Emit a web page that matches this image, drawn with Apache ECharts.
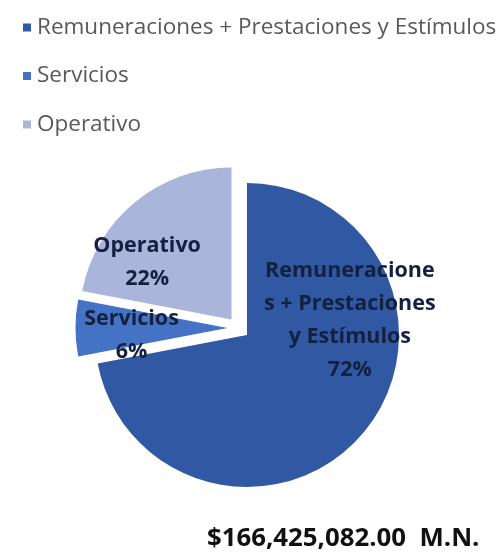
<!DOCTYPE html>
<html>
<head>
<meta charset="utf-8">
<script src="https://cdn.jsdelivr.net/npm/echarts@6/dist/echarts.min.js"></script>
<style>
  html, body { margin: 0; padding: 0; background: #ffffff; }
  #chart { width: 503px; height: 552px; }
</style>
</head>
<body>
<div id="chart"></div>
<script>
// Budget split by spending category (percent of total)
const categories = ['Remuneraciones + Prestaciones y Estímulos', 'Servicios', 'Operativo'];
const shares = [72, 6, 22];
// Wrapped names as they appear inside the slices
const sliceLabels = ['Remuneracione\ns + Prestaciones\ny Estímulos', 'Servicios', 'Operativo'];
const totalText = '$166,425,082.00  M.N.';

const sliceColors = ['#3158A3', '#4472C4', '#A9B5DA'];
// Nudges applied to each inside label (px)
const labelShift = [[42, -65], [-17, 7], [-34, 4]];

const FONT = '"Open Sans", sans-serif';

const chart = echarts.init(document.getElementById('chart'), null, { renderer: 'canvas' });

chart.setOption({
  animation: false,
  backgroundColor: '#ffffff',
  title: {
    text: totalText,
    left: 207,
    top: 525,
    padding: 0,
    textStyle: { fontFamily: FONT, fontSize: 25.8, fontWeight: 'bold', color: '#111111', lineHeight: 28 }
  },
  legend: {
    orient: 'vertical',
    left: 18,
    top: 11,
    itemWidth: 8,
    itemHeight: 8,
    itemGap: 25.5,
    icon: 'rect',
    selectedMode: false,
    data: categories,
    textStyle: { fontFamily: FONT, fontSize: 22.5, lineHeight: 22, color: '#595959', padding: [0, 0, 0, 1] }
  },
  series: [{
    type: 'pie',
    center: [238.5, 328],
    radius: [0, 152],
    startAngle: 90,
    clockwise: true,
    selectedMode: 'multiple',
    selectedOffset: 11,
    avoidLabelOverlap: false,
    emphasis: { disabled: true },
    itemStyle: { borderWidth: 0 },
    label: {
      show: true,
      position: 'inside',
      fontFamily: FONT,
      fontSize: 21.5,
      fontWeight: 'bold',
      lineHeight: 33,
      color: '#13203F',
      align: 'center',
      formatter: p => sliceLabels[p.dataIndex] + '\n' + p.value + '%'
    },
    labelLine: { show: false },
    labelLayout: p => ({ dx: labelShift[p.dataIndex][0], dy: labelShift[p.dataIndex][1] }),
    data: categories.map((name, i) => ({
      name,
      value: shares[i],
      selected: true,
      itemStyle: { color: sliceColors[i] },
      select: { itemStyle: { color: sliceColors[i], borderWidth: 0 } }
    }))
  }]
});
</script>
</body>
</html>
